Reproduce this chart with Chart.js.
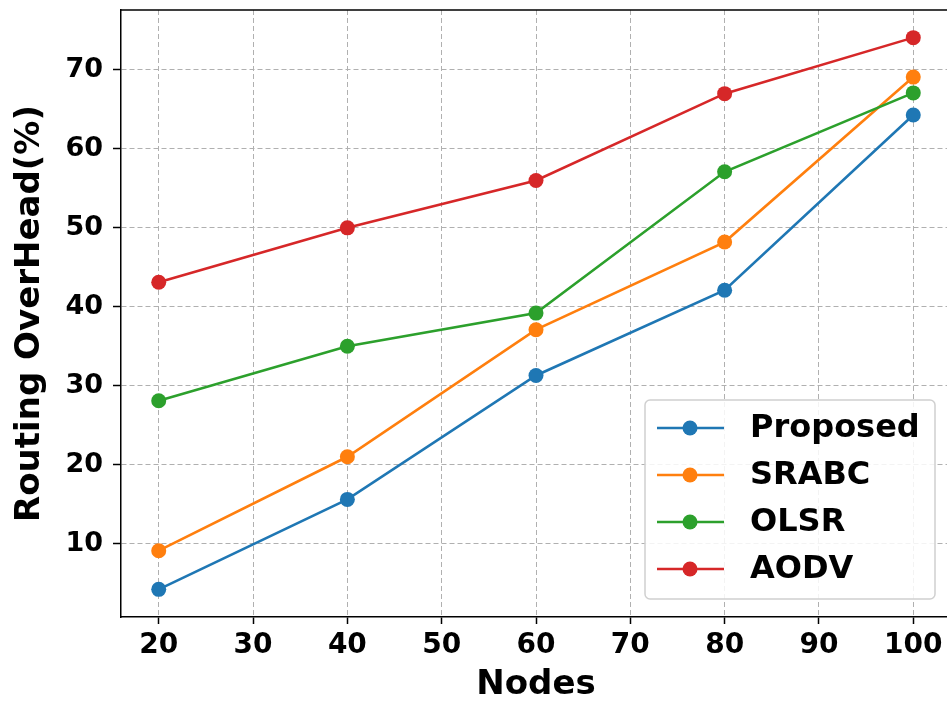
<!DOCTYPE html>
<html>
<head>
<meta charset="utf-8">
<script src="https://cdn.jsdelivr.net/npm/chart.js@4"></script>
<style>
  html, body { margin: 0; padding: 0; background: #fff; overflow: hidden; }
</style>
</head>
<body>
<canvas id="chart" width="952" height="702"></canvas>
<script>
// Values.
const nodes = [20, 40, 60, 80, 100];
const proposed = [4.2, 15.6, 31.3, 42.1, 64.3];
const srabc = [9.1, 21.0, 37.1, 48.2, 69.1];
const olsr = [28.1, 35.0, 39.2, 57.1, 67.1];
const aodv = [43.1, 50.0, 56.0, 67.0, 74.1];

const seriesNames = ['Proposed', 'SRABC', 'OLSR', 'AODV'];
const seriesColors = ['#1f77b4', '#ff7f0e', '#2ca02c', '#d62728'];
const xTicks = [20, 30, 40, 50, 60, 70, 80, 90, 100];
const yTicks = [10, 20, 30, 40, 50, 60, 70];

const FONT = "'DejaVu Sans', sans-serif";

function points(ys) {
    return nodes.map((x, i) => ({ x: x, y: ys[i] }));
}

const all = [proposed, srabc, olsr, aodv];
const datasets = all.map((ys, i) => ({
    label: seriesNames[i],
    data: points(ys),
    borderColor: seriesColors[i],
    backgroundColor: seriesColors[i],
    borderWidth: 2.6,
    pointRadius: 7.5,
    pointHoverRadius: 7.5,
    pointBorderWidth: 0,
    order: all.length - i
}));

// Top and right spines around the plot.
const frame = {
    id: 'frame',
    afterDraw(chart) {
        const { ctx, chartArea: a } = chart;
        ctx.save();
        ctx.strokeStyle = '#000';
        ctx.lineWidth = 1.5;
        ctx.beginPath();
        ctx.moveTo(a.left, a.top);
        ctx.lineTo(a.right, a.top);
        ctx.lineTo(a.right, a.bottom);
        ctx.stroke();
        ctx.restore();
    }
};

// Legend box in the lower right, matplotlib style.
const boxLegend = {
    id: 'boxLegend',
    afterDraw(chart) {
        const ctx = chart.ctx;
        const x0 = 645, y0 = 400, w = 290, h = 199, r = 5;
        ctx.save();
        ctx.fillStyle = 'rgba(255,255,255,0.85)';
        ctx.strokeStyle = '#d0d0d0';
        ctx.lineWidth = 1.5;
        ctx.beginPath();
        ctx.roundRect(x0, y0, w, h, r);
        ctx.fill();
        ctx.stroke();
        chart.data.datasets.forEach((ds, i) => {
            const y = 428 + i * 47;
            ctx.strokeStyle = ds.borderColor;
            ctx.lineWidth = 2.6;
            ctx.beginPath();
            ctx.moveTo(657, y);
            ctx.lineTo(724, y);
            ctx.stroke();
            ctx.fillStyle = ds.borderColor;
            ctx.beginPath();
            ctx.arc(690, y, 7.5, 0, Math.PI * 2);
            ctx.fill();
            ctx.fillStyle = '#000';
            ctx.font = 'bold 32px ' + FONT;
            ctx.textBaseline = 'middle';
            ctx.fillText(ds.label, 750, y + 1);
        });
        ctx.restore();
    }
};

new Chart(document.getElementById('chart'), {
    type: 'line',
    data: { datasets: datasets },
    options: {
        responsive: false,
        animation: false,
        layout: { autoPadding: false, padding: { top: 10, right: 1, left: 0, bottom: 0 } },
        plugins: {
            legend: { display: false },
            tooltip: { enabled: false }
        },
        scales: {
            x: {
                type: 'linear',
                min: 16,
                max: 104,
                afterBuildTicks: s => { s.ticks = xTicks.map(v => ({ value: v })); },
                afterFit: s => { s.height = 85; s.paddingLeft = 0; s.paddingRight = 0; },
                grid: { color: '#b0b0b0', lineWidth: 1, tickColor: '#000', tickLength: 7, tickWidth: 1.5 },
                border: { display: true, color: '#000', width: 1.5, dash: [5, 3] },
                ticks: { autoSkip: false, maxRotation: 0, color: '#000', padding: 5, font: { family: FONT, size: 28, weight: 'bold' } },
                title: { display: true, text: 'Nodes', color: '#000', padding: { top: 0, bottom: 0 }, font: { family: FONT, size: 34, weight: 'bold', lineHeight: 1 } }
            },
            y: {
                type: 'linear',
                min: 0.7,
                max: 77.6,
                afterBuildTicks: s => { s.ticks = yTicks.map(v => ({ value: v })); },
                afterFit: s => { s.width = 121; s.paddingTop = 0; s.paddingBottom = 0; },
                grid: { color: '#b0b0b0', lineWidth: 1, tickColor: '#000', tickLength: 8, tickWidth: 1.5 },
                border: { display: true, color: '#000', width: 1.5, dash: [5, 3] },
                ticks: { autoSkip: false, color: '#000', padding: 10, font: { family: FONT, size: 27, weight: 'bold' } },
                title: { display: true, text: 'Routing OverHead(%)', color: '#000', padding: { top: 13, bottom: 0 }, font: { family: FONT, size: 34, weight: 'bold', lineHeight: 1 } }
            }
        }
    },
    plugins: [frame, boxLegend]
});
</script>
</body>
</html>
